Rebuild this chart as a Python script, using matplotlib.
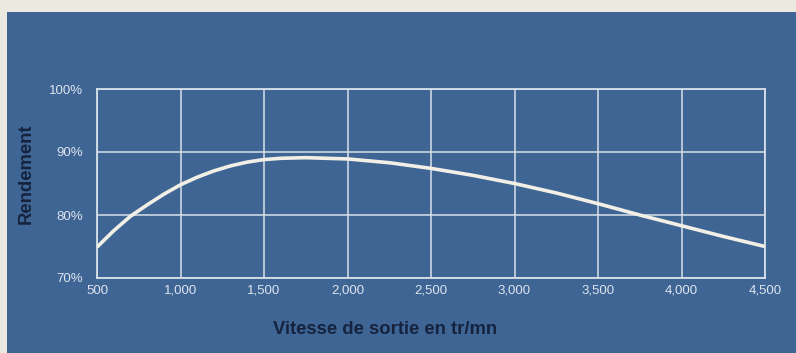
import matplotlib.pyplot as plt
from matplotlib.patches import Rectangle

# values
rpm = [500, 600, 700, 800, 900, 1000, 1100, 1200, 1300, 1400, 1500, 1600, 1750,
       2000, 2250, 2500, 2750, 3000, 3250, 3500, 3750, 4000, 4250, 4500]
rendement = [74.9, 77.5, 79.8, 81.6, 83.3, 84.8, 86.0, 87.0, 87.8, 88.4, 88.8, 89.0, 89.1,
             88.9, 88.3, 87.4, 86.3, 85.0, 83.5, 81.8, 80.0, 78.3, 76.6, 75.0]

x_ticks = [500, 1000, 1500, 2000, 2500, 3000, 3500, 4000, 4500]
x_labels = ["500", "1,000", "1,500", "2,000", "2,500", "3,000", "3,500", "4,000", "4,500"]
y_ticks = [70, 80, 90, 100]
y_labels = ["70%", "80%", "90%", "100%"]

blue = "#3e6594"
grid_col = "#d9e1ea"
text_light = "#dde4ee"
text_dark = "#15233f"

plt.rcParams['font.family'] = ['Liberation Sans', 'DejaVu Sans']

fig = plt.figure(figsize=(7.96, 3.53), dpi=100)
fig.patch.set_facecolor("#ece9e1")

# blue printed panel behind everything
bg = fig.add_axes([0, 0, 1, 1], zorder=-1)
bg.axis("off")
bg.add_patch(Rectangle((7 / 796, 0), 1, 1 - 12 / 353, transform=bg.transAxes,
                       facecolor=blue, edgecolor="none"))

ax = fig.add_axes([97 / 796, 75 / 353, 668 / 796, 189 / 353])
ax.set_facecolor("none")
ax.plot(rpm, rendement, color="#f2efe6", lw=2.6, solid_capstyle="butt", zorder=3)

ax.set_xlim(500, 4500)
ax.set_ylim(70, 100)
ax.set_xticks(x_ticks)
ax.set_xticklabels(x_labels)
ax.set_yticks(y_ticks)
ax.set_yticklabels(y_labels)
ax.grid(True, color=grid_col, lw=1.1)
ax.set_axisbelow(True)
for s in ax.spines.values():
    s.set_color(grid_col)
    s.set_linewidth(1.3)
ax.tick_params(length=0, colors=text_light, labelsize=9.5)
ax.tick_params(axis="x", pad=5)
ax.tick_params(axis="y", pad=10)

fig.text(26 / 796, 1 - 174 / 353, "Rendement", rotation=90, ha="center", va="center",
         fontsize=13.3, color=text_dark, fontweight="bold")
fig.text(385 / 796, 1 - 330 / 353, "Vitesse de sortie en tr/mn", ha="center", va="center",
         fontsize=13.3, color=text_dark, fontweight="bold")

fig.savefig("out.png", dpi=100, facecolor=fig.get_facecolor())
